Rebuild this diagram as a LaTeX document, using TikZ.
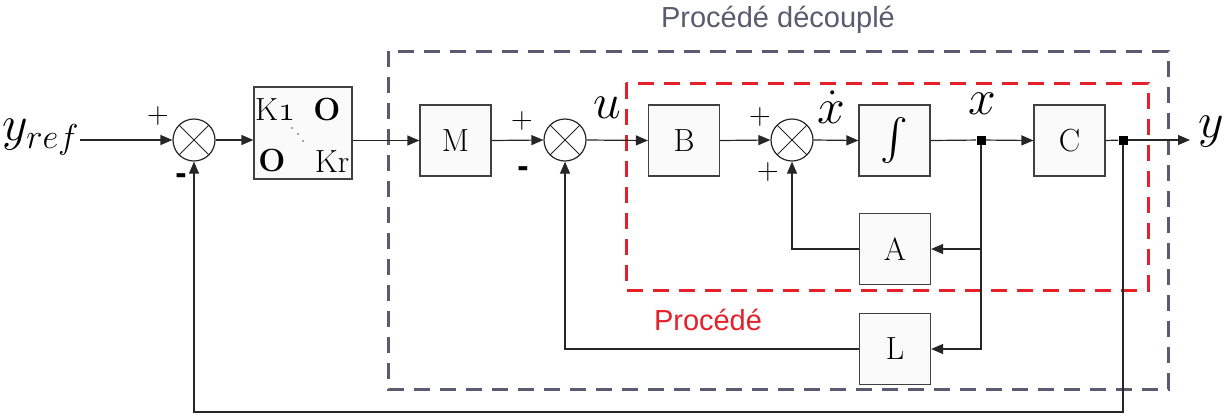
\documentclass[tikz,border=0pt]{standalone}
\usepackage{amsmath}
\usepackage{fontspec}
\newfontfamily\labelsans{Liberation Sans}
\usetikzlibrary{arrows.meta, positioning, calc}

\definecolor{procred}{RGB}{230,32,40}
\definecolor{procgray}{RGB}{90,90,112}

\newcommand{\osone}{{\usefont{OML}{cmm}{m}{it}1}}

\begin{document}
\begin{tikzpicture}[
    x=0.5pt, y=-0.5pt,
    >={Triangle[length=6pt, width=5pt]},
    blk/.style={rectangle, draw=black!75, fill=black!2, line width=0.6pt, minimum width=35.5pt, minimum height=35.5pt, inner sep=0pt, font=\fontsize{16}{18}\selectfont},
    sumnode/.style={circle, draw=black!85, line width=0.6pt, minimum size=21pt, inner sep=0pt, path picture={\draw[line width=0.5pt] (path picture bounding box.north west) -- (path picture bounding box.south east) (path picture bounding box.north east) -- (path picture bounding box.south west);}},
    junc/.style={rectangle, fill=black, minimum size=4.5pt, inner sep=0pt},
    plussig/.style={font=\fontsize{15}{17}\selectfont, inner sep=0pt},
    minussig/.style={font=\labelsans\bfseries\fontsize{17}{19}\selectfont, inner sep=0pt},
    varlbl/.style={font=\fontsize{24}{26}\selectfont, inner sep=0pt},
    kent/.style={font=\fontsize{16}{18}\selectfont, inner sep=0pt},
    wire/.style={line width=0.6pt, draw=black!85},
    arrow/.style={->, line width=0.6pt, draw=black!85},
    frame/.style={line width=1.5pt, dash pattern=on 8pt off 5pt}
]
\useasboundingbox (0,0) rectangle (1226,419);

% =============================================================
% Dashed frames & titles
% =============================================================
\draw[frame, draw=procgray] (388,51) rectangle (1168,389);
\node[font=\labelsans\fontsize{14.5}{16}\selectfont, text=procgray] (tdec) at (778,20) {Procédé découplé};

\draw[frame, draw=procred] (626,83) rectangle (1148,290);
\node[font=\labelsans\fontsize{14.5}{16}\selectfont, text=procred] (tproc) at (708,320) {Procédé};

% =============================================================
% Forward path (y = 140)
% =============================================================
\node[varlbl, anchor=east] (yref) at (80,137) {$y_{ref}$};
\node[sumnode] (sumA) at (194,140) {};
\node[rectangle, draw=black!75, fill=black!2, line width=0.6pt, minimum width=49pt, minimum height=46pt, inner sep=0pt] (kmat) at (303,133) {};
\node[kent] (kone) at (275,110) {K\osone};
\node[kent] (ozero) at (327,110) {\textbf{O}};
\node[kent] (oone) at (272,161) {\textbf{O}};
\node[kent] (kr) at (332,162) {Kr};
\foreach \px/\py in {292/128, 298/134, 303/141}
    \fill[black!70] (\px,\py) circle (0.4pt);

\node[blk] (mblk) at (455.5,140.5) {M};
\node[sumnode] (sumB) at (565,140) {};
\node[blk] (bblk) at (684,140.5) {B};
\node[sumnode] (sumC) at (792,140) {};
\node[blk, font=\fontsize{20}{22}\selectfont] (intg) at (894.5,140.5) {$\int$};
\node[junc] (xpt) at (981,140) {};
\node[blk] (cblk) at (1069.5,140.5) {C};
\node[junc] (ypt) at (1123,140) {};
\node[varlbl, anchor=west] (yout) at (1198,132) {$y$};

\draw[arrow] (yref.east |- sumA.west) -- (sumA.west);
\draw[arrow] (sumA.east) -- (sumA.east -| kmat.west);
\draw[arrow] (kmat.east |- mblk.west) -- (mblk.west);
\draw[arrow] (mblk.east) -- (sumB.west);
\draw[arrow] (sumB.east) -- (bblk.west);
\draw[arrow] (bblk.east) -- (sumC.west);
\draw[arrow] (sumC.east) -- (intg.west);
\draw[wire] (intg.east) -- (xpt);
\draw[arrow] (xpt) -- (cblk.west);
\draw[wire] (cblk.east) -- (ypt);
\draw[arrow] (ypt) -- ([xshift=-4pt]ypt -| yout.west);

% signal labels
\node[varlbl] (ulbl) at (607,108) {$u$};
\node[varlbl] (xdlbl) at (831,107) {$\dot{x}$};
\node[varlbl] (xlbl) at (982,104) {$x$};

% signs
\node[plussig] (pA) at (158,116) {+};
\node[minussig] (mA) at (181,179) {-};
\node[plussig] (pB) at (522,121) {+};
\node[minussig] (mB) at (523,172) {-};
\node[plussig] (pC) at (760,117) {+};
\node[plussig] (pD) at (768,172) {+};

% =============================================================
% Feedback blocks A and L
% =============================================================
\node[blk] (ablk) at (895,249) {A};
\node[blk] (lblk) at (895,349) {L};

\draw[arrow] (xpt) |- (lblk.east);
\draw[arrow] (xpt |- ablk.east) -- (ablk.east);
\draw[arrow] (ablk.west) -| (sumC.south);
\draw[arrow] (lblk.west) -| (sumB.south);

% outer loop
\coordinate (fbot) at (1123,412);
\draw[arrow] (ypt) -- (fbot) -| (sumA.south);

\end{tikzpicture}
\end{document}
